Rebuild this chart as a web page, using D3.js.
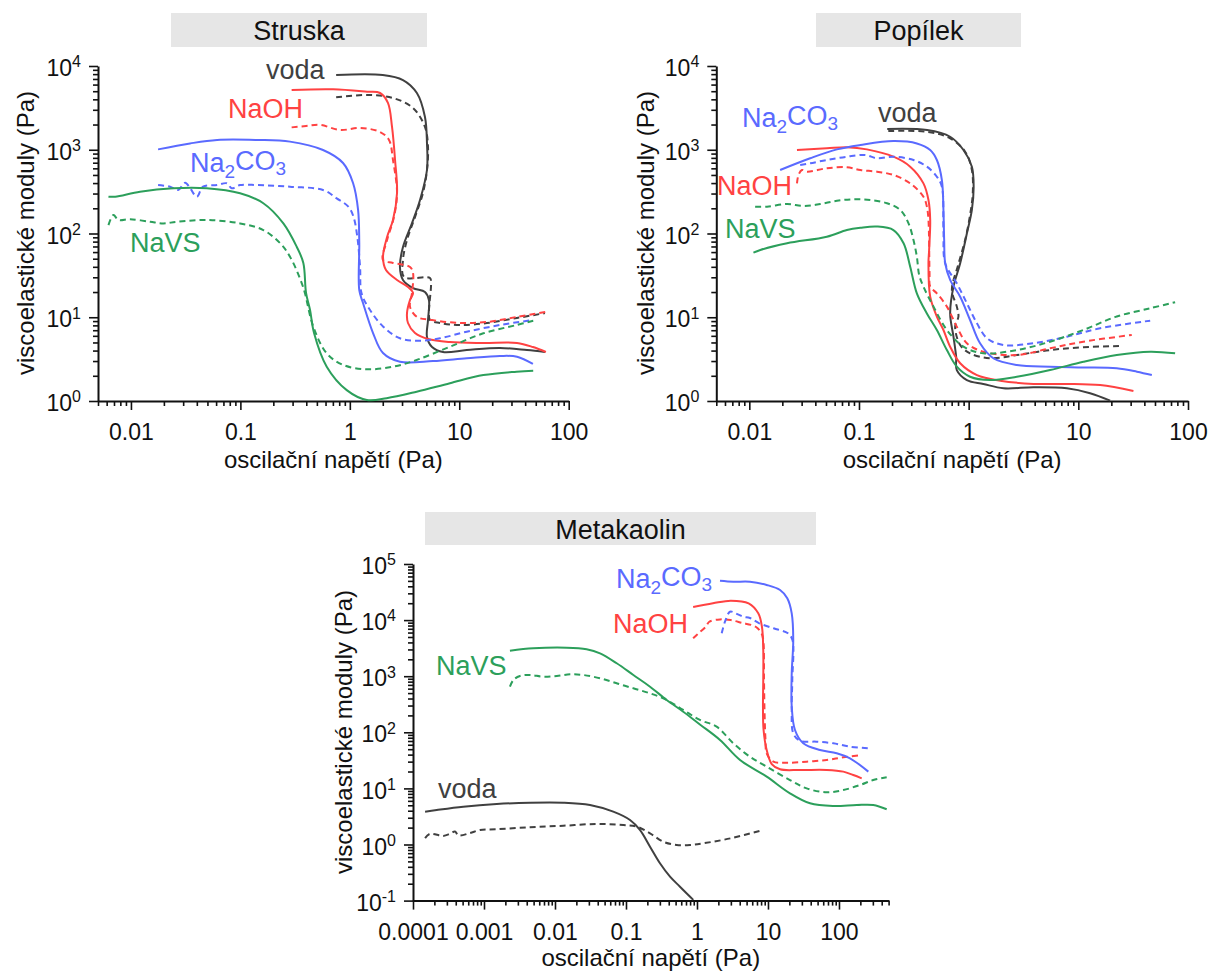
<!DOCTYPE html>
<html>
<head>
<meta charset="utf-8">
<script src="https://d3js.org/d3.v7.min.js"></script>
<style>
  body { margin: 0; background: #fff; }
  svg { font-family: "Liberation Sans", Arial, sans-serif; }
</style>
</head>
<body>
<div id="chart"></div>
<script>
// ---- categories / labels ----
var titles = ["Struska", "Popílek", "Metakaolin"];
var seriesNames = ["voda", "NaOH", "Na2CO3", "NaVS"];
var xTicksTop = [0.01, 0.1, 1, 10, 100];
var xTicksBottom = [0.0001, 0.001, 0.01, 0.1, 1, 10, 100];
var yTicksTop = [1, 10, 100, 1000, 10000];
var yTicksBottom = [0.1, 1, 10, 100, 1000, 10000, 100000];
var xTitle = "oscilační napětí (Pa)";
var yTitle = "viscoelastické moduly (Pa)";

// ---- Struska: [stress Pa, modulus Pa], solid = G', dashed = G'' ----
var struskaVodaSolid = [[0.75,7800],[2.0,7800],[3.06,6800],[4.1,4760],[4.86,2460],[5.07,1200],[5.07,573],[4.38,251],[3.7,133],[3.06,69],[2.87,39.8],[3.06,27.9],[3.78,22.3],[4.86,20],[5.28,16.1],[5.18,9.27],[5.07,5.81],[5.64,4.41],[7.1,3.85],[11.7,4.06],[23.5,4.3],[41.6,4.06],[60.7,3.85]];
var struskaVodaDashed = [[0.75,4230],[1.44,4510],[2.48,4150],[3.78,3150],[4.86,1870],[5.18,1080],[5.07,573],[4.66,305],[3.94,157],[3.33,83.6],[3.06,48.3],[3.13,30.3],[5.4,29.4],[5.52,25.6],[5.28,11.2],[5.4,9.27],[6.67,8.53],[10.1,8.07],[17.9,8.53],[33.6,9.8],[60.7,11.2]];
var struskaNaohSolid = [[0.294,5170],[0.703,5270],[1.44,4930],[1.89,4760],[2.23,3620],[2.43,1870],[2.59,755],[2.7,305],[2.48,145],[2.19,90.8],[2.01,52.4],[2.14,36.6],[2.7,27.9],[3.4,23],[3.78,19.5],[3.55,16.1],[3.33,11.2],[3.4,8.54],[3.94,6.48],[5.18,5.5],[8.2,5.06],[16.4,4.93],[33.7,4.93],[47.1,4.41],[61.9,3.85]];
var struskaNaohDashed = [[0.294,1850],[0.398,1920],[0.535,1980],[0.814,1720],[1.24,1820],[1.89,1630],[2.28,1310],[2.48,755],[2.7,305],[2.53,157],[2.19,83.6],[2.01,48.3],[2.48,44.5],[3.55,39.8],[3.78,33.7],[3.7,19.5],[3.55,13.3],[4.11,10.1],[5.64,9.27],[10.1,8.54],[17.9,8.78],[33.7,10.1],[61.9,11.6]];
var struskaNa2co3Solid = [[0.0177,1010],[0.0347,1190],[0.0613,1310],[0.142,1310],[0.284,1250],[0.569,993],[0.867,695],[1.07,401],[1.19,191],[1.22,77],[1.22,21.1],[1.32,14.8],[1.63,6.48],[2.01,3.74],[2.87,2.94],[5.75,3.0],[11.7,3.24],[23.5,3.45],[33.7,3.38],[47.1,2.77]];
var struskaNa2co3Dashed = [[0.0177,379],[0.0228,362],[0.027,331],[0.0313,404],[0.0347,349],[0.04,275],[0.0456,362],[0.0613,379],[0.0751,398],[0.0834,347],[0.0993,379],[0.142,379],[0.284,362],[0.569,331],[0.759,263],[0.969,209],[1.08,159],[1.17,91.6],[1.24,40.2],[1.28,19.3],[1.53,12.2],[2.02,7.71],[2.87,5.61],[4.38,5.25],[6.67,5.61],[11.7,6.72],[23.5,8.08],[47.4,9.27]];
var struskaNavsSolid = [[0.00623,275],[0.00718,275],[0.0121,316],[0.0244,347],[0.0493,347],[0.0994,302],[0.162,230],[0.247,132],[0.327,69.5],[0.376,44.5],[0.398,19.5],[0.433,12.2],[0.471,6.48],[0.615,2.57],[0.937,1.35],[1.43,1.03],[2.17,1.08],[4.08,1.29],[8.22,1.63],[16.6,2.04],[33.4,2.24],[47.4,2.3]];
var struskaNavsDashed = [[0.00623,126],[0.00692,166],[0.00769,145],[0.00984,148],[0.015,138],[0.0198,132],[0.0263,138],[0.0493,145],[0.0994,132],[0.162,110],[0.231,76.4],[0.284,52.8],[0.374,23],[0.464,7.71],[0.615,3.71],[0.873,2.69],[1.43,2.39],[2.5,2.57],[4.08,3.09],[8.22,4.45],[16.6,6.43],[33.4,8.08],[47.4,9.1]];

// ---- Popílek ----
var popilekVodaSolid = [[0.181,1770],[0.418,1720],[0.678,1430],[0.897,993],[1.07,628],[1.11,362],[1.07,191],[0.963,100],[0.837,44.1],[0.727,23.2],[0.678,11.1],[0.727,5.86],[0.769,3.38],[0.78,2.34],[0.963,1.78],[1.36,1.6],[2.08,1.42],[3.9,1.46],[7.86,1.42],[12.8,1.24],[19.5,1.01]];
var popilekVodaDashed = [[0.185,1670],[0.418,1640],[0.678,1370],[0.929,948],[1.07,573],[1.09,302],[1.03,166],[0.929,83.6],[0.802,42],[0.703,21.1],[0.78,13.4],[0.807,10.2],[0.753,7.71],[0.837,4.66],[1.03,3.71],[1.57,3.24],[2.75,3.54],[5.53,4.06],[11.1,4.38],[24.0,4.54]];
var popilekNaohSolid = [[0.0272,993],[0.0509,1040],[0.0776,1070],[0.118,1010],[0.206,826],[0.293,628],[0.387,397],[0.43,251],[0.446,145],[0.436,63.5],[0.43,44.1],[0.446,17.6],[0.513,10.2],[0.589,7.04],[0.678,4.45],[0.837,2.82],[1.19,2.04],[1.94,1.75],[3.9,1.6],[7.86,1.6],[15.8,1.55],[31.8,1.32]];
var popilekNaohDashed = [[0.0272,397],[0.0281,500],[0.0302,573],[0.0335,547],[0.0509,601],[0.0776,618],[0.103,573],[0.146,547],[0.206,500],[0.293,397],[0.387,275],[0.416,209],[0.43,145],[0.44,33.5],[0.446,23.2],[0.513,19.3],[0.633,13.4],[0.78,7.71],[0.963,4.89],[1.36,3.88],[2.75,3.54],[5.53,4.26],[11.1,5.11],[30.7,6.14]];
var popilekNa2co3Solid = [[0.0191,573],[0.0359,791],[0.0629,1010],[0.103,1140],[0.206,1270],[0.337,1190],[0.446,993],[0.513,755],[0.57,435],[0.589,191],[0.598,83.6],[0.611,44.1],[0.678,27.9],[0.837,17.6],[1.03,9.27],[1.27,4.89],[1.68,3.24],[2.75,2.69],[5.53,2.57],[11.1,2.52],[22.4,2.46],[34.2,2.24],[46.8,2.04]];
var popilekNa2co3Dashed = [[0.0291,658],[0.0359,689],[0.0509,755],[0.0776,826],[0.114,865],[0.146,791],[0.206,826],[0.314,755],[0.416,628],[0.513,476],[0.57,362],[0.589,110],[0.611,44.1],[0.78,25.4],[0.963,14.7],[1.19,8.47],[1.47,5.61],[2.08,4.66],[3.9,4.89],[7.86,5.86],[15.8,7.38],[45.2,9.1]];
var popilekNavsSolid = [[0.0109,59],[0.0126,63.5],[0.0221,76.4],[0.0509,91.6],[0.0776,110],[0.103,117],[0.146,121],[0.206,110],[0.255,76.4],[0.293,40.2],[0.337,19.3],[0.416,11.1],[0.513,7.04],[0.633,4.06],[0.78,2.57],[1.03,1.95],[1.57,1.78],[2.75,1.95],[5.53,2.34],[11.1,2.94],[22.4,3.54],[45.2,3.88],[76.3,3.71]];
var popilekNavsDashed = [[0.0113,209],[0.0145,209],[0.022,225],[0.0312,213],[0.0443,225],[0.0629,246],[0.0891,256],[0.127,251],[0.18,230],[0.238,191],[0.283,132],[0.314,83.6],[0.337,52.8],[0.354,31.9],[0.387,23.2],[0.478,13.4],[0.633,7.04],[0.897,4.45],[1.36,3.71],[2.75,4.06],[5.53,5.11],[11.1,7.04],[22.4,10.2],[45.2,12.8],[76.3,15.1]];

// ---- Metakaolin ----
var metaVodaSolid = [[0.000148,3.85],[0.000216,4.12],[0.00051,4.72],[0.00151,5.27],[0.00445,5.56],[0.0131,5.56],[0.0311,5.06],[0.0662,3.85],[0.114,2.73],[0.157,1.82],[0.218,0.914],[0.301,0.462],[0.417,0.267],[0.576,0.177],[0.754,0.126],[0.887,0.103]];
var metaVodaDashed = [[0.000148,1.3],[0.000173,1.55],[0.000267,1.42],[0.000332,1.55],[0.000391,1.7],[0.000435,1.45],[0.000635,1.6],[0.000879,1.81],[0.00151,1.87],[0.00445,2.03],[0.0131,2.16],[0.0386,2.32],[0.0916,2.23],[0.142,2.08],[0.218,1.58],[0.335,1.12],[0.517,0.98],[0.797,0.98],[1.23,1.05],[2.99,1.29],[8.47,1.81]];
var metaNaohSolid = [[0.883,17100],[1.68,19900],[2.99,22200],[5.34,19900],[7.3,13200],[8.22,7620],[8.58,2930],[8.58,855],[8.5,286],[8.67,110],[9.59,48.3],[11.3,27.2],[14.8,21.9],[28.2,21.3],[67.1,21.3],[115,19.9],[159,17.3],[209,15.1]];
var metaNaohDashed = [[0.883,4740],[1.05,5820],[1.33,7620],[1.49,9350],[2.11,10300],[2.99,10000],[4.22,8990],[6.71,7620],[8.09,5820],[8.58,4420],[8.79,855],[8.93,250],[9.23,73],[9.59,42.3],[11.9,29.9],[18.3,28.7],[35.1,29.9],[67.1,32.1],[115,35.8],[209,39.4]];
var metaNa2co3Solid = [[2.11,50300],[3.25,48300],[5.57,48300],[9.59,42300],[14.8,34400],[18.7,24500],[21.6,13200],[22.7,4420],[21.6,1130],[21.6,286],[24.0,110],[31.4,63.7],[54,48.3],[92.9,42.3],[143,34.4],[259,19.9]];
var metaNa2co3Dashed = [[2.23,5820],[2.48,9350],[2.92,14100],[3.63,12900],[4.49,11500],[5.57,10900],[7.54,8770],[12.0,7140],[19.1,5820],[22.1,4420],[22,855],[21.6,250],[22.7,96],[28.2,70.8],[48.5,68],[83.2,63.7],[143,55.4],[259,51.9]];
var metaNavsSolid = [[0.00232,2850],[0.00494,3140],[0.0146,3220],[0.0279,3020],[0.0431,2560],[0.074,1700],[0.127,1050],[0.218,650],[0.374,377],[0.641,233],[1.1,138],[2.11,73],[4.04,32.1],[9.59,16.2],[20.4,8.18],[39.1,5.42],[83.2,4.85],[178,5.06],[304,5.06],[470,4.25]];
var metaNavsDashed = [[0.00232,650],[0.00259,855],[0.00321,1010],[0.00445,1050],[0.00684,980],[0.0106,1010],[0.0163,1080],[0.0251,1050],[0.0431,918],[0.074,747],[0.127,608],[0.218,495],[0.374,377],[0.641,250],[1.1,166],[1.89,126],[3.25,63.7],[5.57,36.7],[9.59,24.4],[20.4,14.1],[35.1,10],[67.1,8.51],[115,9.35],[198,11.5],[304,14.1],[470,15.8]];

var colors = { "voda": "#404040", "NaOH": "#ff4242", "Na2CO3": "#5a6aff", "NaVS": "#2c9f5b" };

var svg = d3.select("#chart").append("svg")
    .attr("width", 1211)
    .attr("height", 971);

svg.append("rect").attr("width", 1211).attr("height", 971).attr("fill", "#fff");

function minorTicks(domain) {
    var out = [];
    var lo = Math.floor(Math.log10(domain[0])), hi = Math.ceil(Math.log10(domain[1]));
    for (var e = lo; e <= hi; e++) {
        for (var k = 2; k <= 9; k++) {
            var v = +(k * Math.pow(10, e)).toPrecision(2);
            if (v >= domain[0] * 0.999 && v <= domain[1] * 1.001) out.push(v);
        }
    }
    return out;
}

// series label with chemical subscripts
function addLabel(g, name, x, y) {
    var t = g.append("text")
        .attr("x", x).attr("y", y)
        .attr("fill", colors[name])
        .style("font-size", "27px");
    if (name == "Na2CO3") {
        t.append("tspan").text("Na");
        t.append("tspan").attr("dy", "0.3em").style("font-size", "19px").text("2");
        t.append("tspan").attr("dy", "-0.3em").text("CO");
        t.append("tspan").attr("dy", "0.3em").style("font-size", "19px").text("3");
    } else {
        t.text(name);
    }
}

function drawPanel(p) {
    var g = svg.append("g");

    var x = d3.scaleLog().domain(p.xDomain).range(p.xRange);
    var y = d3.scaleLog().domain(p.yDomain).range(p.yRange);

    // title box
    g.append("rect")
        .attr("x", p.box[0]).attr("y", p.box[1])
        .attr("width", p.box[2]).attr("height", p.box[3])
        .attr("fill", "#e6e6e6");
    g.append("text")
        .attr("x", p.box[0] + p.box[2] / 2)
        .attr("y", p.box[1] + 27)
        .attr("text-anchor", "middle")
        .style("font-size", "27px")
        .attr("fill", "#111")
        .text(p.title);

    var x0 = p.xRange[0], yBottom = p.yRange[0];

    // minor ticks
    g.append("g")
        .attr("transform", "translate(0," + yBottom + ")")
        .call(d3.axisBottom(x).tickValues(minorTicks(p.xDomain)).tickSize(5).tickSizeOuter(0).tickFormat(""))
        .call(function(a) { a.select(".domain").remove(); });
    g.append("g")
        .attr("transform", "translate(" + x0 + ",0)")
        .call(d3.axisLeft(y).tickValues(minorTicks(p.yDomain)).tickSize(5).tickSizeOuter(0).tickFormat(""))
        .call(function(a) { a.select(".domain").remove(); });

    // major x axis
    var xa = g.append("g")
        .attr("transform", "translate(0," + yBottom + ")")
        .call(d3.axisBottom(x).tickValues(p.xTicks).tickSize(9).tickSizeOuter(0).tickPadding(14)
            .tickFormat(d3.format("~g")));
    xa.selectAll("text").style("font-size", "23px").attr("fill", "#111");

    // major y axis with 10^n labels
    var ya = g.append("g")
        .attr("transform", "translate(" + x0 + ",0)")
        .call(d3.axisLeft(y).tickValues(p.yTicks).tickSize(9).tickSizeOuter(0).tickPadding(8)
            .tickFormat(""));
    ya.selectAll(".tick text").each(function(d) {
        var t = d3.select(this);
        t.attr("dy", "0.42em").style("font-size", "23px").attr("fill", "#111");
        t.append("tspan").text("10");
        t.append("tspan").attr("dy", "-0.55em").style("font-size", "16px")
            .text(String(Math.round(Math.log10(d))));
    });

    g.selectAll(".domain").attr("stroke-width", 2).attr("stroke", "#111");
    g.selectAll(".tick line").attr("stroke-width", 1.6).attr("stroke", "#111");

    // axis titles
    g.append("text")
        .attr("transform", "translate(" + p.yLabelPos[0] + "," + p.yLabelPos[1] + ") rotate(-90)")
        .attr("text-anchor", "middle")
        .attr("dy", "0.35em")
        .style("font-size", "24px")
        .attr("fill", "#111")
        .text(yTitle);
    g.append("text")
        .attr("x", (p.xRange[0] + p.xRange[1]) / 2)
        .attr("y", p.xLabelY)
        .attr("text-anchor", "middle")
        .style("font-size", "24px")
        .attr("fill", "#111")
        .text(xTitle);

    // curves
    var line = d3.line()
        .x(function(d) { return x(d[0]); })
        .y(function(d) { return y(d[1]); })
        .curve(d3.curveCatmullRom.alpha(0.5));

    seriesNames.forEach(function(name) {
        var s = p.series[name];
        g.append("path")
            .datum(s[1])
            .attr("fill", "none")
            .attr("stroke", colors[name])
            .attr("stroke-width", 2)
            .attr("stroke-dasharray", "6,4")
            .attr("d", line);
        g.append("path")
            .datum(s[0])
            .attr("fill", "none")
            .attr("stroke", colors[name])
            .attr("stroke-width", 2)
            .attr("d", line);
    });

    p.labels.forEach(function(l) { addLabel(g, l[0], l[1], l[2]); });
}

var panels = [
    {
        title: titles[0], box: [171, 13, 256, 34],
        xDomain: [0.005, 100], xRange: [98, 568.7],
        yDomain: [1, 1e4], yRange: [401, 66],
        xTicks: xTicksTop, yTicks: yTicksTop,
        yLabelPos: [26, 233], xLabelY: 468,
        series: {
            "voda": [struskaVodaSolid, struskaVodaDashed],
            "NaOH": [struskaNaohSolid, struskaNaohDashed],
            "Na2CO3": [struskaNa2co3Solid, struskaNa2co3Dashed],
            "NaVS": [struskaNavsSolid, struskaNavsDashed]
        },
        labels: [["voda", 266, 79], ["NaOH", 228, 118], ["Na2CO3", 190, 172], ["NaVS", 130, 252]]
    },
    {
        title: titles[1], box: [816, 13, 205, 34],
        xDomain: [0.005, 100], xRange: [716.3, 1188],
        yDomain: [1, 1e4], yRange: [401, 66],
        xTicks: xTicksTop, yTicks: yTicksTop,
        yLabelPos: [646, 233], xLabelY: 468,
        series: {
            "voda": [popilekVodaSolid, popilekVodaDashed],
            "NaOH": [popilekNaohSolid, popilekNaohDashed],
            "Na2CO3": [popilekNa2co3Solid, popilekNa2co3Dashed],
            "NaVS": [popilekNavsSolid, popilekNavsDashed]
        },
        labels: [["voda", 878, 122], ["NaOH", 717, 195], ["Na2CO3", 742, 127], ["NaVS", 725, 238]]
    },
    {
        title: titles[2], box: [425, 512, 391, 33],
        xDomain: [0.0001, 500], xRange: [413, 888.6],
        yDomain: [0.1, 1e5], yRange: [900.6, 564],
        xTicks: xTicksBottom, yTicks: yTicksBottom,
        yLabelPos: [344, 732], xLabelY: 966,
        series: {
            "voda": [metaVodaSolid, metaVodaDashed],
            "NaOH": [metaNaohSolid, metaNaohDashed],
            "Na2CO3": [metaNa2co3Solid, metaNa2co3Dashed],
            "NaVS": [metaNavsSolid, metaNavsDashed]
        },
        labels: [["voda", 438, 798], ["NaOH", 613, 633], ["Na2CO3", 616, 588], ["NaVS", 436, 675]]
    }
];

panels.forEach(drawPanel);
</script>
</body>
</html>
